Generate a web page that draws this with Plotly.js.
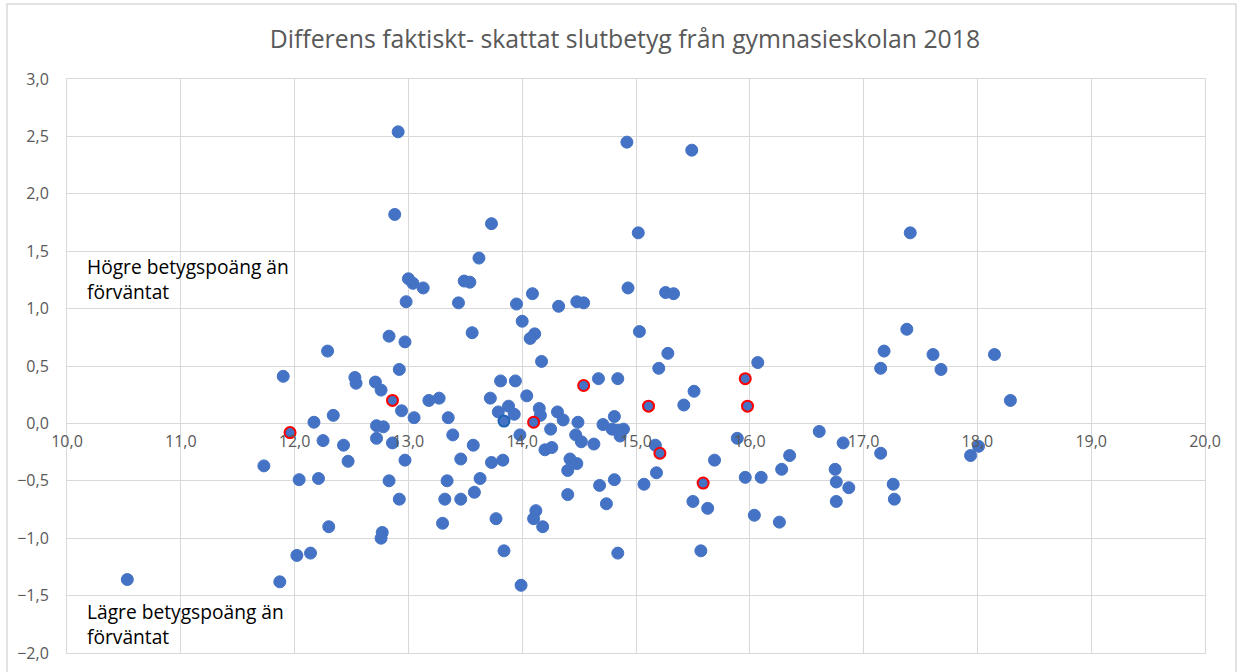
<!DOCTYPE html>
<html>
<head>
<meta charset="utf-8">
<script src="https://cdn.plot.ly/plotly-3.0.1.min.js"></script>
<style>
html,body{margin:0;padding:0;background:#fff;}
#chart{width:1240px;height:672px;}
</style>
</head>
<body>
<div id="chart"></div>
<script>
// Blue points (estimated betyg, difference)
var xBlue = [10.53,11.73,11.90,11.87,12.02,12.04,12.14,12.17,12.21,12.25,12.29,12.30,12.34,12.43,12.47,12.53,12.54,12.71,12.76,12.72,12.78,12.72,12.83,12.86,12.92,12.94,12.97,12.98,12.97,13.05,13.00,13.04,12.83,12.92,12.77,12.76,12.91,12.88,
  13.13,13.49,13.54,13.44,13.95,14.09,14.32,14.00,13.56,14.11,14.07,14.17,13.81,13.94,13.18,13.27,13.72,14.04,13.35,13.79,13.88,13.93,14.15,14.16,14.31,14.36,
  13.39,13.57,13.98,14.25,14.20,14.26,13.46,13.73,13.83,14.42,14.40,13.34,13.63,13.32,13.46,13.58,14.40,13.30,13.77,14.12,14.10,14.18,13.84,13.99,14.84,15.57,
  14.92,15.49,13.73,15.02,13.62,14.93,15.26,15.33,14.48,14.54,15.03,15.28,15.20,15.51,15.42,14.67,14.84,14.49,14.71,14.81,14.79,14.89,14.86,14.84,14.47,14.52,14.63,
  15.17,15.69,14.48,15.18,14.68,14.81,15.07,14.74,15.50,15.63,16.07,15.89,16.61,15.96,16.10,16.28,16.35,16.04,16.26,
  17.38,17.18,17.15,17.61,17.68,18.15,18.29,16.82,17.15,16.75,16.76,16.87,16.76,17.26,17.27,18.01,17.94,17.41];
var yBlue = [-1.36,-0.37,0.41,-1.38,-1.15,-0.49,-1.13,0.01,-0.48,-0.15,0.63,-0.90,0.07,-0.19,-0.33,0.40,0.35,0.36,0.29,-0.02,-0.03,-0.13,0.76,-0.17,0.47,0.11,0.71,1.06,-0.32,0.05,1.26,1.22,-0.50,-0.66,-0.95,-1.00,2.54,1.82,
  1.18,1.24,1.23,1.05,1.04,1.13,1.02,0.89,0.79,0.78,0.74,0.54,0.37,0.37,0.20,0.22,0.22,0.24,0.05,0.10,0.15,0.08,0.13,0.07,0.10,0.03,
  -0.10,-0.19,-0.10,-0.05,-0.23,-0.21,-0.31,-0.34,-0.32,-0.31,-0.41,-0.50,-0.48,-0.66,-0.66,-0.60,-0.62,-0.87,-0.83,-0.76,-0.83,-0.90,-1.11,-1.41,-1.13,-1.11,
  2.45,2.38,1.74,1.66,1.44,1.18,1.14,1.13,1.06,1.05,0.80,0.61,0.48,0.28,0.16,0.39,0.39,0.01,-0.01,0.06,-0.05,-0.05,-0.11,-0.06,-0.10,-0.16,-0.18,
  -0.19,-0.32,-0.35,-0.43,-0.54,-0.49,-0.53,-0.70,-0.68,-0.74,0.53,-0.13,-0.07,-0.47,-0.47,-0.40,-0.28,-0.80,-0.86,
  0.82,0.63,0.48,0.60,0.47,0.60,0.20,-0.17,-0.26,-0.40,-0.51,-0.56,-0.68,-0.53,-0.66,-0.20,-0.28,1.66];

// Highlighted points (red outline)
var xRed = [11.96,12.86,14.10,14.54,15.11,15.21,15.59,15.96,15.98];
var yRed = [-0.08,0.20,0.01,0.33,0.15,-0.26,-0.52,0.39,0.15];

// Point with dark blue outline
var xRing = [13.84];
var yRing = [0.02];

var titleText = 'Differens faktiskt- skattat slutbetyg från gymnasieskolan 2018';
var noteHigh = 'Högre betygspoäng än<br>förväntat';
var noteLow = 'Lägre betygspoäng än<br>förväntat';

var FONT = '"Open Sans", "Noto Sans", sans-serif';
var BLUE = '#4472C4';
var GRID = '#d9d9d9';

var traces = [
  {x:xBlue, y:yBlue, type:'scatter', mode:'markers', xaxis:'x', yaxis:'y',
   marker:{color:BLUE, size:12, line:{color:BLUE, width:1}}, hoverinfo:'x+y', showlegend:false},
  {x:xRing, y:yRing, type:'scatter', mode:'markers', xaxis:'x', yaxis:'y',
   marker:{color:BLUE, size:11, line:{color:'#1F64B4', width:2}}, showlegend:false},
  {x:xRed, y:yRed, type:'scatter', mode:'markers', xaxis:'x2', yaxis:'y',
   marker:{color:BLUE, size:11, line:{color:'#FF0000', width:2}}, showlegend:false}
];

var layout = {
  width:1240, height:672,
  margin:{l:67, r:35, t:79, b:19, pad:0},
  paper_bgcolor:'#fff', plot_bgcolor:'#fff',
  separators:', ',
  font:{family:FONT, color:'#595959'},
  title:{text:titleText, font:{family:FONT, size:24.8, color:'#595959'},
         xref:'container', x:0.504, xanchor:'center', yref:'container', y:1-39/672, yanchor:'middle'},
  xaxis:{range:[10,20], dtick:1, tick0:10, showgrid:true, gridcolor:GRID, gridwidth:1,
         showticklabels:false, zeroline:false, showline:true, mirror:true, linecolor:GRID, linewidth:1, ticks:''},
  xaxis2:{range:[10,20], dtick:1, tick0:10, overlaying:'x', anchor:'free', position:0.4, side:'bottom',
          showgrid:false, zeroline:false, showline:false, ticks:'', tickformat:'.1f',
          tickfont:{family:FONT, size:16, color:'#595959'}, ticklabelstandoff:7},
  yaxis:{range:[-2,3], dtick:0.5, tick0:0, tickformat:'.1f', showgrid:true, gridcolor:GRID, gridwidth:1,
         zeroline:true, zerolinecolor:GRID, zerolinewidth:1, showline:true, mirror:true, linecolor:GRID, linewidth:1,
         ticks:'', tickfont:{family:FONT, size:16, color:'#595959'}, ticklabelstandoff:14},
  annotations:[
    {xref:'paper', yref:'paper', x:0.0155, y:0.652, xanchor:'left', yanchor:'middle', align:'left',
     text:noteHigh, showarrow:false, font:{family:FONT, size:19.2, color:'#000'}},
    {xref:'paper', yref:'paper', x:0.0155, y:0.051, xanchor:'left', yanchor:'middle', align:'left',
     text:noteLow, showarrow:false, font:{family:FONT, size:19.2, color:'#000'}}
  ],
  shapes:[
    {type:'rect', xref:'paper', yref:'paper', x0:(7-67)/1138, x1:(1236-67)/1138, y0:(653-690)/574, y1:(653-4)/574,
     line:{color:GRID, width:1.5}, fillcolor:'rgba(0,0,0,0)', layer:'below'}
  ]
};

Plotly.newPlot('chart', traces, layout, {displayModeBar:false, staticPlot:true});
</script>
</body>
</html>
